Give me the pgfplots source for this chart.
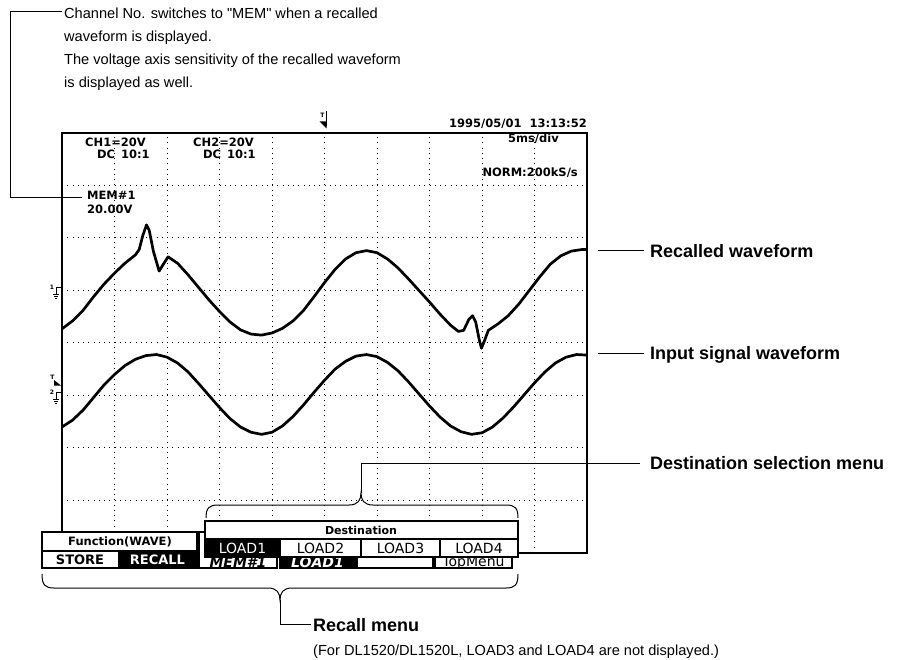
\documentclass[border=0pt]{standalone}
\usepackage{pgfplots}
\pgfplotsset{compat=1.18}
\usepackage{fontspec}
\setmainfont{Liberation Sans}
\newfontfamily\lib{Liberation Sans}
\newfontfamily\scr{DejaVu Sans}
\newcommand{\sfs}[1]{\fontsize{#1}{#1}\selectfont}
\begin{document}
\begin{tikzpicture}
\useasboundingbox (0,0) rectangle (904pt,660pt);
\fill[white] (0,0) rectangle (904pt,660pt);
% ---------------- oscilloscope screen ----------------
\begin{axis}[at={(62pt,107pt)}, anchor=south west,
  width=525pt, height=420pt, scale only axis,
  xmin=0, xmax=10, ymin=-4, ymax=4,
  xtick={1,...,9}, ytick={-3,...,3},
  xticklabels={}, yticklabels={}, tick style={draw=none},
  grid=major, grid style={black, line width=1pt, dash pattern=on 1pt off 4.25pt},
  axis line style={line width=1.4pt},
  axis background/.style={fill=white}]
% Recalled waveform (MEM#1), in divisions
\addplot[black, line width=2.7pt, line join=round] coordinates {
(0.00,0.27) (0.20,0.42) (0.40,0.62) (0.60,0.88) (0.80,1.12) (1.00,1.33)
(1.20,1.52) (1.40,1.68) (1.47,1.78) (1.54,2.05) (1.61,2.25) (1.66,2.15)
(1.74,1.75) (1.85,1.37) (1.93,1.50) (2.02,1.64) (2.20,1.52) (2.40,1.30)
(2.60,1.06) (2.80,0.82) (3.00,0.60) (3.20,0.40) (3.40,0.25) (3.60,0.17)
(3.80,0.15) (4.00,0.19) (4.20,0.28) (4.40,0.42) (4.60,0.62) (4.80,0.88)
(5.00,1.15) (5.20,1.40) (5.40,1.60) (5.60,1.72) (5.80,1.76) (6.00,1.72)
(6.20,1.60) (6.40,1.43) (6.60,1.22) (6.80,1.00) (7.00,0.78) (7.20,0.55)
(7.40,0.34) (7.55,0.22) (7.65,0.24) (7.75,0.45) (7.82,0.52) (7.88,0.40)
(7.95,0.05) (7.99,-0.10) (8.05,0.05) (8.12,0.24) (8.30,0.36) (8.50,0.52)
(8.70,0.74) (8.90,1.00) (9.10,1.26) (9.30,1.50) (9.50,1.66) (9.70,1.75)
(9.90,1.78) (10.00,1.78)};
% Input signal waveform (CH2)
\addplot[black, line width=2.7pt, line join=round] coordinates {
(0.00,-1.60) (0.20,-1.47) (0.40,-1.28) (0.60,-1.04) (0.80,-0.80) (1.00,-0.60)
(1.20,-0.43) (1.40,-0.31) (1.60,-0.24) (1.80,-0.22) (2.00,-0.27) (2.20,-0.38)
(2.40,-0.55) (2.60,-0.77) (2.80,-1.00) (3.00,-1.23) (3.20,-1.44) (3.40,-1.60)
(3.60,-1.70) (3.80,-1.74) (4.00,-1.70) (4.20,-1.58) (4.40,-1.40) (4.60,-1.18)
(4.80,-0.94) (5.00,-0.71) (5.20,-0.50) (5.40,-0.35) (5.60,-0.25) (5.80,-0.22)
(6.00,-0.26) (6.20,-0.37) (6.40,-0.53) (6.60,-0.74) (6.80,-0.97) (7.00,-1.20)
(7.20,-1.41) (7.40,-1.58) (7.60,-1.69) (7.80,-1.74) (8.00,-1.71) (8.20,-1.60)
(8.40,-1.43) (8.60,-1.22) (8.80,-0.99) (9.00,-0.76) (9.20,-0.55) (9.40,-0.38)
(9.60,-0.27) (9.80,-0.22) (10.00,-0.23)};
\end{axis}
% ---------------- overlay in pixel coordinates ----------------
\begin{axis}[at={(0pt,0pt)}, anchor=south west,
  width=904pt, height=660pt, scale only axis,
  xmin=0, xmax=904, ymin=0, ymax=660, y dir=reverse,
  hide axis, clip=false]
% screen texts
\begin{scope}[every node/.style={inner sep=0pt, font=\scr\bfseries\sfs{11.5}}]
\node[anchor=base west] at (85,147) {CH1=20V};
\node[anchor=base west] at (97,159) {DC\ \,10:1};
\node[anchor=base west] at (193,147) {CH2=20V};
\node[anchor=base west] at (203,159) {DC\ \,10:1};
\node[anchor=base west] at (87,199.5) {MEM\#1};
\node[anchor=base west] at (87,214) {20.00V};
\node[anchor=base east] at (587,128) {1995/05/01\ \ 13:13:52};
\node[anchor=base east] at (559,143) {5ms/div};
\node[anchor=base east] at (578,177) {NORM:200kS/s};
\end{scope}
% trigger position marker
\node[inner sep=0pt, font=\scr\bfseries\sfs{6}] at (322.5,115.5) {T};
\draw[line width=0.8pt] (326,111) -- (326,126);
\fill (319.5,121.5) -- (326.5,121.5) -- (326.5,128.5) -- cycle;
% ground markers
\node[inner sep=0pt, font=\scr\bfseries\sfs{6}] at (52,287) {1};
\draw[line width=0.8pt] (61,287.5) -- (56,287.5) -- (56,294);
\draw[line width=0.8pt] (53,294) -- (59,294) (54,296) -- (58,296) (55,298) -- (57,298);
\node[inner sep=0pt, font=\scr\bfseries\sfs{6}] at (52,392) {2};
\draw[line width=0.8pt] (61,392.5) -- (56,392.5) -- (56,399);
\draw[line width=0.8pt] (53,399) -- (59,399) (54,401) -- (58,401) (55,403) -- (57,403);
% trigger level marker
\node[inner sep=0pt, font=\scr\bfseries\sfs{6}] at (52.5,377) {T};
\fill (54,380) -- (61,385.5) -- (54,385.5) -- cycle;
% back row of soft keys
\draw[line width=1.1pt, fill=white] (199,532) rectangle (277,568);
\draw[line width=1.1pt, fill=black] (280,532) rectangle (355,568);
\draw[line width=1.1pt, fill=white] (357,532) rectangle (433,568);
\draw[line width=1.1pt, fill=white] (435,532) rectangle (512,568);
\node[inner sep=0pt, font=\scr\bfseries\itshape\sfs{14}] at (238,562.5) {MEM\#1};
\node[inner sep=0pt, text=white, font=\scr\bfseries\itshape\sfs{14}] at (317.5,562.5) {LOAD1};
\node[inner sep=0pt, font=\scr\sfs{14}] at (473.5,562.5) {TopMenu};
% Destination popup
\draw[line width=1.1pt, fill=white] (205,521) rectangle (518,557);
\fill[black] (205,539) rectangle (280,557);
\draw[line width=1.1pt] (205,539) -- (518,539) (280,539) -- (280,557) (361,539) -- (361,557) (440,539) -- (440,557);
\draw[line width=1.1pt] (205,521) rectangle (518,557);
\node[inner sep=0pt, font=\scr\bfseries\sfs{11}] at (361,530) {Destination};
\node[inner sep=0pt, text=white, font=\scr\sfs{14}] at (242.5,548) {LOAD1};
\node[inner sep=0pt, font=\scr\sfs{14}] at (320.5,548) {LOAD2};
\node[inner sep=0pt, font=\scr\sfs{14}] at (400.5,548) {LOAD3};
\node[inner sep=0pt, font=\scr\sfs{14}] at (479,548) {LOAD4};
% Function box
\draw[line width=1.1pt, fill=white] (42,532) rectangle (197,568);
\fill[black] (118,551) rectangle (197,568);
\draw[line width=1.1pt] (42,551) -- (197,551);
\draw[line width=1.1pt] (42,532) rectangle (197,568);
\node[inner sep=0pt, font=\scr\bfseries\sfs{11.5}] at (120,541.5) {Function(WAVE)};
\node[inner sep=0pt, font=\scr\bfseries\sfs{13}] at (80,560) {STORE};
\node[inner sep=0pt, text=white, font=\scr\bfseries\sfs{13}] at (157.5,560) {RECALL};
% braces and callout lines
\begin{scope}[line width=1pt]
\draw (206,518) .. controls (206,508) and (209,505) .. (218,505) -- (349,505)
  .. controls (358,505) and (361,500) .. (361,493)
  .. controls (361,500) and (364,505) .. (373,505) -- (506,505)
  .. controls (515,505) and (518,508) .. (518,518);
\draw (361,493) -- (361,463) -- (640,463);
\draw (42,574) .. controls (42,585) and (45,588) .. (54,588) -- (268,588)
  .. controls (277,588) and (280,593) .. (280,600)
  .. controls (280,593) and (283,588) .. (292,588) -- (506,588)
  .. controls (515,588) and (518,585) .. (518,574);
\draw (280,600) -- (280,624) -- (311,624);
\draw (62,12) -- (10,12) -- (10,198) -- (82,198);
\draw (598,251) -- (644,251);
\draw (598,353) -- (644,353);
\end{scope}
% annotation texts
\begin{scope}[every node/.style={inner sep=0pt, anchor=base west, font=\lib\sfs{14.6}}]
\node at (64,19) {Channel No. switches to "MEM" when a recalled};
\node at (64,42) {waveform is displayed.};
\node at (64,65) {The voltage axis sensitivity of the recalled waveform};
\node at (64,88) {is displayed as well.};
\node[font=\lib\bfseries\sfs{18}] at (650,257.5) {Recalled waveform};
\node[font=\lib\bfseries\sfs{18}] at (650,359.5) {Input signal waveform};
\node[font=\lib\bfseries\sfs{18}] at (650,469.5) {Destination selection menu};
\node[font=\lib\bfseries\sfs{18}] at (313,631) {Recall menu};
\node at (313,655) {(For DL1520/DL1520L, LOAD3 and LOAD4 are not displayed.)};
\end{scope}
\end{axis}
\end{tikzpicture}
\end{document}
